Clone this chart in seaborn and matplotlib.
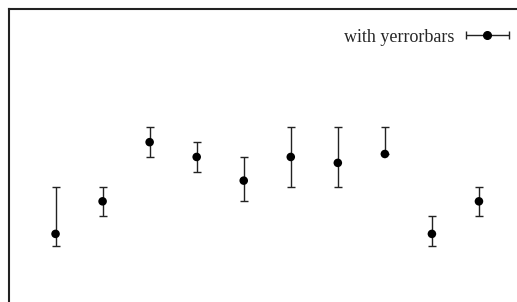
import numpy as np
import pandas as pd
import matplotlib
matplotlib.use("Agg")
import matplotlib.pyplot as plt
from matplotlib.legend_handler import HandlerErrorbar
import seaborn as sns

x = [1, 2, 3, 4, 5, 6, 7, 8, 9, 10]
y = [0.8, 3.0, 7.0, 6.0, 4.4, 6.0, 5.6, 6.2, 0.8, 3.0]
ylow = [0, 2, 6, 5, 3, 4, 4, 6.2, 0, 2]
yhigh = [4, 4, 8, 7, 6, 8, 8, 8, 2, 4]
label = "with yerrorbars"

sns.set_theme(style="white")
plt.rcParams['font.family'] = ['Liberation Serif', 'DejaVu Serif']

df = pd.DataFrame({"x": x, "y": y, "lo": ylow, "hi": yhigh})

fig = plt.figure(figsize=(5.17, 3.02), dpi=100)
ax = fig.add_axes([8.5/517, (302-304.9)/302, (526-8.5)/517, (304.9-9)/302])

yerr = np.array([df.y - df.lo, df.hi - df.y])
ax.errorbar(df.x, df.y, yerr=yerr, fmt='none', ecolor='#222222',
            elinewidth=1.0, capsize=2.8, capthick=1.0, zorder=2)
sns.scatterplot(data=df, x="x", y="y", ax=ax, color='black', s=38,
                edgecolor='none', zorder=3, legend=False)

# legend proxy: horizontal errorbar symbol
proxy = ax.errorbar([np.nan], [np.nan], xerr=[1], fmt='o', color='black',
                    ms=5.5, ecolor='#222222', elinewidth=1.0, capsize=2.8,
                    label=label)
ax.legend(handles=[proxy], labels=[label], loc='center right',
          bbox_to_anchor=(510/517, 1 - 37/302), bbox_transform=fig.transFigure,
          frameon=False, fontsize=13, handlelength=2.5, handletextpad=0.6,
          borderpad=0, borderaxespad=0, markerfirst=False,
          handler_map={type(proxy): HandlerErrorbar(xerr_size=1.2)})

ax.set_xlim(0, 11)
ax.set_ylim(-4, 16)
ax.set_xticks([])
ax.set_yticks([])
ax.set_xlabel("")
ax.set_ylabel("")
for s in ["right", "bottom"]:
    ax.spines[s].set_visible(False)
for s in ["left", "top"]:
    ax.spines[s].set_color('#222222')
    ax.spines[s].set_linewidth(1.5)

fig.savefig("out.png", dpi=100)
